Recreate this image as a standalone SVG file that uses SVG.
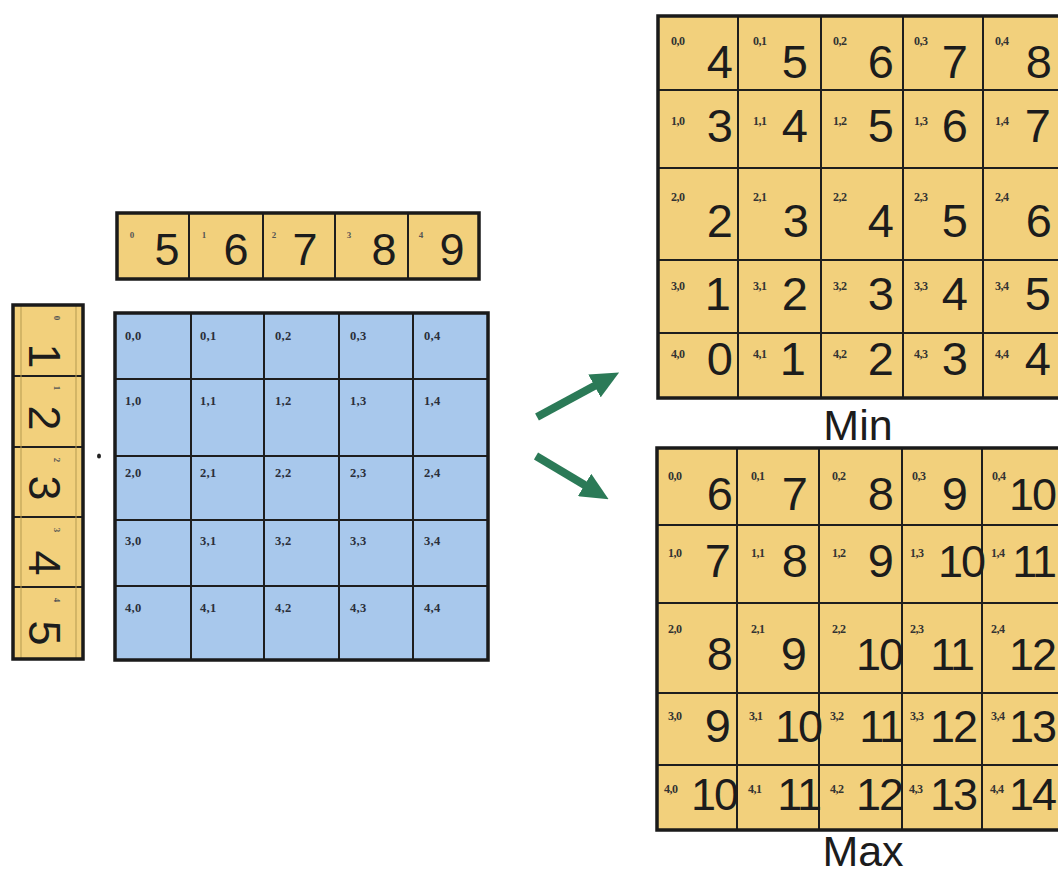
<svg xmlns="http://www.w3.org/2000/svg" width="1058" height="875" viewBox="0 0 1058 875">
<defs>
<style>
.yel{fill:#f2d07c}
.blu{fill:#a8c8ec}
.in{fill:none;stroke:#1e1e1e;stroke-width:2}
.out{fill:none;stroke:#1a1a1a;stroke-width:3.5}
.dig{font-family:"Liberation Sans",Arial,sans-serif;font-size:47px;fill:#1c1c1c;text-anchor:end}
.two{font-size:45px;letter-spacing:-2px}
.vd{font-family:"Liberation Sans",Arial,sans-serif;font-size:45px;fill:#1c1c1c;text-anchor:middle}
.lbl{font-family:"Liberation Serif","Times New Roman",serif;font-weight:bold;font-size:12px;fill:#333;letter-spacing:-0.5px}
.blbl{font-family:"Liberation Serif","Times New Roman",serif;font-weight:bold;font-size:12.5px;fill:#2b2f3a;letter-spacing:0.3px}
.idx{font-family:"Liberation Serif","Times New Roman",serif;font-weight:bold;font-size:9px;fill:#555;text-anchor:middle}
.cap{font-family:"Liberation Sans",Arial,sans-serif;font-size:43px;fill:#1c1c1c;text-anchor:middle}
.arr{stroke:#2b7a57;stroke-width:8;fill:none}
</style>
<marker id="ah" markerUnits="userSpaceOnUse" markerWidth="28" markerHeight="26" viewBox="0 0 28 26" refX="4" refY="13" orient="auto">
<path d="M0,0 L28,13 L0,26 z" fill="#2b7a57"/>
</marker>
</defs>
<rect width="1058" height="875" fill="#ffffff"/>

<g id="top-vector">
<rect class="yel" x="117" y="213" width="362" height="66"/>
<path class="in" d="M189 213V279M263 213V279M335 213V279M408 213V279"/>
<rect class="out" x="117" y="213" width="362" height="66"/>
<text class="idx" x="132" y="238">0</text><text class="idx" x="204" y="238">1</text><text class="idx" x="274" y="238">2</text><text class="idx" x="349" y="238">3</text><text class="idx" x="421" y="238">4</text>
<text class="vd" x="167" y="265">5</text><text class="vd" x="236" y="265">6</text><text class="vd" x="305" y="265">7</text><text class="vd" x="384" y="265">8</text><text class="vd" x="452" y="265">9</text>
</g>

<g id="left-vector">
<rect class="yel" x="13" y="305" width="70" height="354"/>
<path class="in" d="M13 376H83M13 447H83M13 517H83M13 587H83"/>
<path d="M21 305V659M76 305V659" stroke="#b59a50" stroke-width="1" fill="none"/>
<rect class="out" x="13" y="305" width="70" height="354"/>
<text class="idx" transform="translate(54,318) rotate(90)">0</text>
<text class="idx" transform="translate(54,388) rotate(90)">1</text>
<text class="idx" transform="translate(54,460) rotate(90)">2</text>
<text class="idx" transform="translate(54,530) rotate(90)">3</text>
<text class="idx" transform="translate(54,600) rotate(90)">4</text>
<text class="vd" transform="translate(29,356) rotate(90)">1</text>
<text class="vd" transform="translate(29,418) rotate(90)">2</text>
<text class="vd" transform="translate(29,488) rotate(90)">3</text>
<text class="vd" transform="translate(29,563) rotate(90)">4</text>
<text class="vd" transform="translate(29,633) rotate(90)">5</text>
<ellipse cx="99" cy="456" rx="2" ry="2.5" fill="#222"/>
</g>

<g id="input-grid">
<rect class="blu" x="115" y="313" width="373" height="347"/>
<path class="in" d="M191 313V660M264 313V660M339 313V660M413 313V660M115 379H488M115 456H488M115 520H488M115 586H488"/>
<rect class="out" x="115" y="313" width="373" height="347"/>
<g class="blbl">
<text x="125" y="340">0,0</text><text x="200" y="340">0,1</text><text x="275" y="340">0,2</text><text x="350" y="340">0,3</text><text x="424" y="340">0,4</text>
<text x="125" y="405">1,0</text><text x="200" y="405">1,1</text><text x="275" y="405">1,2</text><text x="350" y="405">1,3</text><text x="424" y="405">1,4</text>
<text x="125" y="477">2,0</text><text x="200" y="477">2,1</text><text x="275" y="477">2,2</text><text x="350" y="477">2,3</text><text x="424" y="477">2,4</text>
<text x="125" y="545">3,0</text><text x="200" y="545">3,1</text><text x="275" y="545">3,2</text><text x="350" y="545">3,3</text><text x="424" y="545">3,4</text>
<text x="125" y="612">4,0</text><text x="200" y="612">4,1</text><text x="275" y="612">4,2</text><text x="350" y="612">4,3</text><text x="424" y="612">4,4</text>
</g>
</g>

<g id="min-grid">
<rect class="yel" x="658" y="16" width="406" height="382"/>
<path class="in" d="M738 16V398M821 16V398M903 16V398M983 16V398M658 90H1064M658 168H1064M658 260H1064M658 333H1064"/>
<rect class="out" x="658" y="16" width="406" height="382"/>
<g class="lbl">
<text x="671" y="45">0,0</text><text x="753" y="45">0,1</text><text x="833" y="45">0,2</text><text x="914" y="45">0,3</text><text x="995" y="45">0,4</text>
<text x="671" y="125">1,0</text><text x="753" y="125">1,1</text><text x="833" y="125">1,2</text><text x="914" y="125">1,3</text><text x="995" y="125">1,4</text>
<text x="671" y="201">2,0</text><text x="753" y="201">2,1</text><text x="833" y="201">2,2</text><text x="914" y="201">2,3</text><text x="995" y="201">2,4</text>
<text x="671" y="290">3,0</text><text x="753" y="290">3,1</text><text x="833" y="290">3,2</text><text x="914" y="290">3,3</text><text x="995" y="290">3,4</text>
<text x="671" y="358">4,0</text><text x="753" y="358">4,1</text><text x="833" y="358">4,2</text><text x="914" y="358">4,3</text><text x="995" y="358">4,4</text>
</g>
<g class="dig">
<text x="733" y="78">4</text><text x="808" y="78">5</text><text x="894" y="78">6</text><text x="968" y="78">7</text><text x="1052" y="78">8</text>
<text x="733" y="142">3</text><text x="808" y="142">4</text><text x="894" y="142">5</text><text x="968" y="142">6</text><text x="1051" y="142">7</text>
<text x="733" y="237">2</text><text x="809" y="237">3</text><text x="894" y="237">4</text><text x="968" y="237">5</text><text x="1052" y="237">6</text>
<text x="731" y="310">1</text><text x="808" y="310">2</text><text x="894" y="310">3</text><text x="968" y="310">4</text><text x="1051" y="310">5</text>
<text x="733" y="375">0</text><text x="806" y="375">1</text><text x="894" y="375">2</text><text x="968" y="375">3</text><text x="1051" y="375">4</text>
</g>
<text class="cap" x="858" y="440">Min</text>
</g>

<g id="max-grid">
<rect class="yel" x="657" y="448" width="407" height="382"/>
<path class="in" d="M737 448V830M819 448V830M902 448V830M982 448V830M657 525H1064M657 603H1064M657 693H1064M657 765H1064"/>
<rect class="out" x="657" y="448" width="407" height="382"/>
<g class="lbl">
<text x="668" y="480">0,0</text><text x="751" y="480">0,1</text><text x="832" y="480">0,2</text><text x="912" y="480">0,3</text><text x="992" y="480">0,4</text>
<text x="668" y="557">1,0</text><text x="751" y="557">1,1</text><text x="832" y="557">1,2</text><text x="910" y="557">1,3</text><text x="991" y="557">1,4</text>
<text x="668" y="633">2,0</text><text x="751" y="633">2,1</text><text x="832" y="633">2,2</text><text x="910" y="633">2,3</text><text x="991" y="633">2,4</text>
<text x="668" y="720">3,0</text><text x="749" y="720">3,1</text><text x="830" y="720">3,2</text><text x="910" y="720">3,3</text><text x="991" y="720">3,4</text>
<text x="664" y="793">4,0</text><text x="748" y="793">4,1</text><text x="830" y="793">4,2</text><text x="909" y="793">4,3</text><text x="990" y="793">4,4</text>
</g>
<g class="dig">
<text x="733" y="510">6</text><text x="808" y="510">7</text><text x="894" y="510">8</text><text x="968" y="510">9</text><text class="two" x="1055" y="510">10</text>
<text x="731" y="577">7</text><text x="808" y="577">8</text><text x="894" y="577">9</text><text class="two" x="984" y="577">10</text><text class="two" x="1055" y="577">11</text>
<text x="733" y="670">8</text><text x="807" y="670">9</text><text class="two" x="902" y="670">10</text><text class="two" x="973" y="670">11</text><text class="two" x="1055" y="670">12</text>
<text x="731" y="742">9</text><text class="two" x="821" y="742">10</text><text class="two" x="902" y="742">11</text><text class="two" x="976" y="742">12</text><text class="two" x="1055" y="742">13</text>
<text class="two" x="737" y="810">10</text><text class="two" x="820" y="810">11</text><text class="two" x="902" y="810">12</text><text class="two" x="976" y="810">13</text><text class="two" x="1055" y="810">14</text>
</g>
<text class="cap" x="863" y="866">Max</text>
</g>

<g id="connectors">
<line class="arr" x1="537" y1="417" x2="598" y2="384" marker-end="url(#ah)"/>
<line class="arr" x1="536" y1="456" x2="588" y2="487" marker-end="url(#ah)"/>
</g>
</svg>
